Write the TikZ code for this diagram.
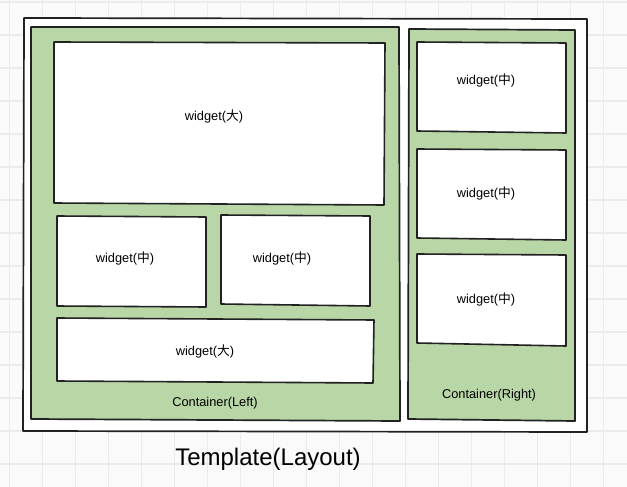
\documentclass[tikz,border=0pt]{standalone}
\usepackage{fontspec}
\setmainfont{Liberation Sans}
\newfontfamily\cjk{Noto Sans CJK SC}

\definecolor{paper}{RGB}{250,250,250}
\definecolor{gridc}{RGB}{235,235,235}
\definecolor{inkc}{RGB}{34,34,34}
\definecolor{leaf}{RGB}{184,214,166}

\tikzset{
  frame/.style={draw=inkc, line width=1.7pt, fill=white, line join=round},
  holder/.style={draw=inkc, line width=1.7pt, fill=leaf, line join=round},
  widget/.style={draw=inkc, line width=1.6pt, fill=white, line join=round},
  tag/.style={font=\fontsize{12.8}{14}\selectfont, inner sep=0pt},
  title/.style={font=\fontsize{24}{28}\selectfont, inner sep=0pt}
}

\begin{document}
\begin{tikzpicture}[x=1pt,y=-1pt]
\useasboundingbox (0,0) rectangle (627,487);
\fill [paper] (0,0) rectangle (627,487);

% grid
\foreach \gx in {0,...,18} \draw [gridc, line width=1.5pt] ({9.5+33*\gx},0) -- ({9.5+33*\gx},487);
\foreach \gy in {0,...,14} \draw [gridc, line width=1.5pt] (0,{2+33*\gy}) -- (627,{2+33*\gy});

% template
\draw [frame] (24,18) -- (587,19) -- (587,432) -- (23,431) -- cycle;

% left container
\draw [holder] (31,27) -- (399,27) -- (400,421) -- (31,419) -- cycle;
\draw [widget] (54,42) -- (385,43) -- (384,205) -- (54,203) -- cycle;
\draw [widget] (57,216) -- (206,217) -- (206,307) -- (57,306) -- cycle;
\draw [widget] (221,215) -- (370,216) -- (370,306) -- (221,304) -- cycle;
\draw [widget] (57,318) -- (374,320) -- (373,383) -- (57,381) -- cycle;

\node [tag] (bigtop) at (214,116) {widget({\cjk 大})};
\node [tag] (midleft) at (125,258) {widget({\cjk 中})};
\node [tag] (midright) at (282,258) {widget({\cjk 中})};
\node [tag] (bigbottom) at (205,351) {widget({\cjk 大})};
\node [tag] (leftname) at (215,403) {Container(Left)};

% right container
\draw [holder] (409,29) -- (575,30) -- (575,421) -- (408,419) -- cycle;
\draw [widget] (417,42) -- (566,43) -- (566,133) -- (417,131) -- cycle;
\draw [widget] (417,149) -- (566,150) -- (566,240) -- (417,238) -- cycle;
\draw [widget] (417,254) -- (566,255) -- (566,346) -- (417,343) -- cycle;

\node [tag] (rightone) at (486,80) {widget({\cjk 中})};
\node [tag] (righttwo) at (486,193) {widget({\cjk 中})};
\node [tag] (rightthree) at (486,299) {widget({\cjk 中})};
\node [tag] (rightname) at (489,395) {Container(Right)};

\node [title] (layout) at (268,459) {Template(Layout)};
\end{tikzpicture}
\end{document}
